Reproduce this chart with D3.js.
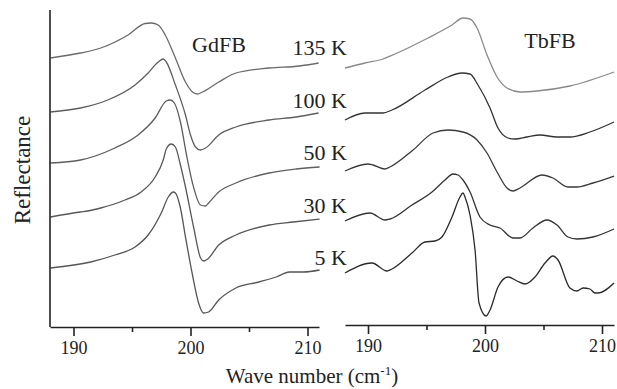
<!DOCTYPE html>
<html>
<head>
<meta charset="utf-8">
<script src="https://cdn.jsdelivr.net/npm/d3@7"></script>
<style>
  html, body { margin: 0; padding: 0; background: #fff; }
  svg { display: block; font-family: "Liberation Serif", "Times New Roman", serif; }
</style>
</head>
<body>
<svg id="chart" width="617" height="389"></svg>
<script>
// ---------- DATA (wavenumber in cm^-1, reflectance in arbitrary offset units) ----------
const temperatures = ["135 K", "100 K", "50 K", "30 K", "5 K"];
const panelNames = ["GdFB", "TbFB"];
const xTicks = [190, 200, 210];
const xMinorTicks = [195, 205];

// GdFB
const gd135 = [[188.02,269],[190.60,274],[192.33,279],[194.66,292],[196.12,303.5],[196.64,304],[197.24,302],[197.84,292],[198.71,269],[199.57,245],[200.17,235],[200.60,233],[201.03,235],[202.41,245],[203.88,254],[206.72,259],[209.31,261],[209.91,262],[210.95,264]];
const gd100 = [[188.02,215],[190.60,219],[192.93,227],[195.26,242],[196.38,254],[197.24,265],[197.67,268],[197.93,265],[198.71,242],[199.57,212],[200.00,192],[200.43,180],[200.86,177],[201.29,179],[202.41,192],[203.88,200],[206.72,207],[209.05,210],[210.95,214]];
const gd50 = [[188.02,164],[190.60,167],[193.53,179],[195.52,192],[196.98,209],[197.93,226],[198.28,227],[198.62,224],[199.14,205],[199.66,172],[200.17,144],[200.86,122],[201.29,121],[201.55,124],[202.41,135],[203.88,144],[206.72,154],[209.05,158],[211.03,160]];
const gd30 = [[188.02,110],[190.60,115],[191.21,116],[192.33,119],[194.40,127],[195.78,135],[196.98,150],[197.67,167],[197.93,178],[198.36,183],[198.71,180],[199.14,162],[199.57,140],[200.26,100],[200.86,69],[201.12,66],[201.47,68],[202.41,82],[203.88,92],[206.72,102],[208.79,105],[211.03,108]];
const gd5 = [[188.02,59],[191.47,65],[193.53,72],[195.26,80],[196.38,92],[197.50,114],[198.10,130],[198.53,135],[198.71,134],[199.14,119],[199.57,90],[200.17,52],[200.69,24],[201.12,14],[201.55,15],[202.41,27],[203.88,39],[205.86,45],[207.33,50],[208.45,55],[209.66,55],[211.03,57]];

// TbFB
const tb135 = [[188.03,259],[189.74,264],[191.28,268],[192.31,273],[195.13,289],[197.18,302],[198.12,309],[198.72,308],[199.32,299],[200.17,272],[201.03,250],[201.88,239],[202.99,235],[204.44,236],[207.26,241],[211.03,255]];
const tb100 = [[188.03,207],[189.74,214],[191.28,214],[192.05,217],[194.87,237],[196.84,250],[198.03,254],[198.72,253],[199.40,242],[200.43,219],[201.11,199],[201.97,189],[202.56,188],[203.59,190],[204.70,192],[206.15,190],[207.26,190],[208.97,195],[211.03,205]];
const tb50 = [[188.03,156],[190.00,163],[190.43,162],[191.45,158],[191.88,160],[193.85,177],[195.56,194],[196.84,197],[198.12,195],[199.32,187],[200.17,174],[201.03,155],[201.88,139],[202.39,136],[202.99,139],[204.87,152],[205.81,149],[207.09,140],[207.86,140],[209.23,144],[211.03,151]];
const tb30 = [[188.03,106],[190.17,114],[191.45,107],[191.88,108],[193.76,122],[195.47,135],[196.58,147],[197.26,153],[197.69,152],[198.12,147],[198.72,135],[199.57,110],[200.43,102],[201.28,99],[202.39,89],[202.99,89],[204.10,99],[205.30,107],[206.15,102],[207.09,90],[207.86,88],[209.23,90],[211.03,98]];
const tb5 = [[188.03,54],[190.34,64],[191.62,56],[192.05,58],[193.76,74],[194.87,85],[195.73,86],[196.32,90],[197.18,110],[197.86,130],[198.12,134],[198.29,130],[198.72,112],[199.15,77],[199.49,24],[200.09,11],[200.43,17],[201.11,40],[201.97,50],[202.74,46],[203.42,43],[204.27,50],[205.13,64],[205.81,71],[206.24,67],[207.26,39],[207.86,36],[208.38,39],[208.97,38],[209.40,34],[209.66,34],[211.03,44]];

const gdSeries = [gd135, gd100, gd50, gd30, gd5];
const tbSeries = [tb135, tb100, tb50, tb30, tb5];

// ---------- LAYOUT ----------
const svg = d3.select("#chart");
const yScale = d3.scaleLinear().domain([0, 317]).range([327, 10]);

const panels = [
  { name: panelNames[0], series: gdSeries, x0: 50, x1: 319, axisY: 327,
    domain: [190 - 23.5/11.7, 210 + 11.5/11.7], colors: ["#6a6a6a","#5e5e5e","#5e5e5e","#585858","#555"] },
  { name: panelNames[1], series: tbSeries, x0: 345, x1: 614, axisY: 325,
    domain: [190 - 23/11.7, 210 + 12/11.7], colors: ["#8a8a8a","#333","#3a3a3a","#333","#2a2a2a"] }
];

panels.forEach((p, pi) => {
  const x = d3.scaleLinear().domain(p.domain).range([p.x0, p.x1]);
  const line = d3.line()
    .x(d => x(d[0]))
    .y(d => yScale(d[1]))
    .curve(d3.curveMonotoneX);

  const g = svg.append("g");
  g.selectAll("path.curve")
    .data(p.series)
    .join("path")
    .attr("class", "curve")
    .attr("d", line)
    .attr("fill", "none")
    .attr("stroke", (d, i) => p.colors[i])
    .attr("stroke-width", 1.3);

  // major axis
  const ax = g.append("g")
    .attr("transform", `translate(0,${p.axisY})`)
    .call(d3.axisBottom(x).tickValues(xTicks).tickSize(9).tickSizeOuter(0).tickPadding(5).tickFormat(d3.format("d")));
  ax.select(".domain").attr("stroke", "#222").attr("stroke-width", 1.6);
  ax.selectAll(".tick line").attr("stroke", "#222").attr("stroke-width", 1.6);
  ax.selectAll(".tick text")
    .attr("font-family", '"Liberation Serif", serif')
    .attr("font-size", 18).attr("fill", "#222");

  // minor ticks
  g.append("g")
    .attr("transform", `translate(0,${p.axisY})`)
    .call(d3.axisBottom(x).tickValues(xMinorTicks).tickSize(5).tickSizeOuter(0).tickFormat(""))
    .call(a => a.select(".domain").remove())
    .selectAll(".tick line").attr("stroke", "#222").attr("stroke-width", 1.6);

  // panel title
  g.append("text")
    .attr("x", pi === 0 ? 219 : 550)
    .attr("y", pi === 0 ? 52 : 48)
    .attr("text-anchor", "middle")
    .attr("font-size", 22)
    .attr("fill", "#222")
    .text(p.name);
});

// left y axis line (no ticks)
svg.append("line")
  .attr("x1", 50).attr("x2", 50)
  .attr("y1", 10).attr("y2", 327)
  .attr("stroke", "#222").attr("stroke-width", 1.6);

// temperature labels
const labelBaselines = [55, 108, 160, 213, 265];
svg.selectAll("text.temp")
  .data(temperatures)
  .join("text")
  .attr("class", "temp")
  .attr("x", 347)
  .attr("y", (d, i) => labelBaselines[i])
  .attr("text-anchor", "end")
  .attr("font-size", 22)
  .attr("fill", "#222")
  .text(d => d);

// axis titles
const xt = svg.append("text")
  .attr("x", 312).attr("y", 383)
  .attr("text-anchor", "middle")
  .attr("font-size", 21)
  .attr("fill", "#222");
xt.append("tspan").text("Wave number (cm");
xt.append("tspan").attr("dy", -8).attr("font-size", 13).text("-1");
xt.append("tspan").attr("dy", 8).text(")");

svg.append("text")
  .attr("transform", "translate(30,170) rotate(-90)")
  .attr("text-anchor", "middle")
  .attr("font-size", 23)
  .attr("fill", "#222")
  .text("Reflectance");
</script>
</body>
</html>
